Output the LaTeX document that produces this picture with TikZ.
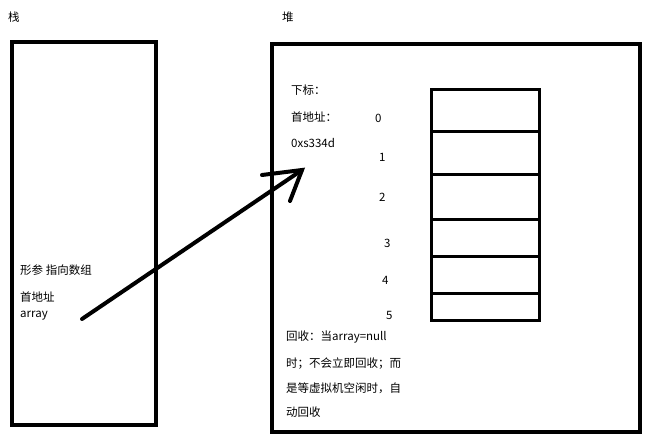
\documentclass[tikz,border=0pt]{standalone}
\usepackage{fontspec}
\setmainfont{Noto Sans CJK SC}
\begin{document}
\begin{tikzpicture}[x=1pt,y=-1pt,
 box/.style={draw,line width=4pt},
 cell/.style={draw,line width=3pt},
 txt/.style={anchor=west,inner sep=0pt,font=\fontsize{11.5}{13}\selectfont},
 pen/.style={line width=4pt,line cap=round}]
\useasboundingbox (0,0) rectangle (658,445);
\node[txt] (lbl1) at (8,17) {栈};
\node[txt] (lbl2) at (282,17) {堆};
\draw[box] (12,42) rectangle (156,425);
\draw[box] (272,44) rectangle (640,432);
\draw[cell] (431,89) rectangle (539,320);
\foreach \y in {131,174,219,256,293} \draw[cell] (431,\y) -- (541,\y);
\node[txt] at (291,90) {下标：};
\node[txt] at (291,117) {首地址：};
\node[txt] at (291,143) {0xs334d};
\node[txt] at (375,118) {0};
\node[txt] at (379,157) {1};
\node[txt] at (379,197) {2};
\node[txt] at (384,243) {3};
\node[txt] at (382,280) {4};
\node[txt] at (386,315) {5};
\node[txt] at (20,270) {形参 指向数组};
\node[txt] at (20,297) {首地址};
\node[txt] at (20,316) {array};
\node[txt] at (286,337) {回收：当array=null};
\node[txt] at (286,364) {时；不会立即回收；而};
\node[txt] at (286,388) {是等虚拟机空闲时，自};
\node[txt] at (286,412) {动回收};
\coordinate (s) at (82,319);
\coordinate (t) at (302,170);
\coordinate (h1) at (262,175);
\coordinate (h2) at (290,201);
\draw[pen] (s) -- (t);
\draw[pen] (h1) -- (t) -- (h2);
\end{tikzpicture}
\end{document}
